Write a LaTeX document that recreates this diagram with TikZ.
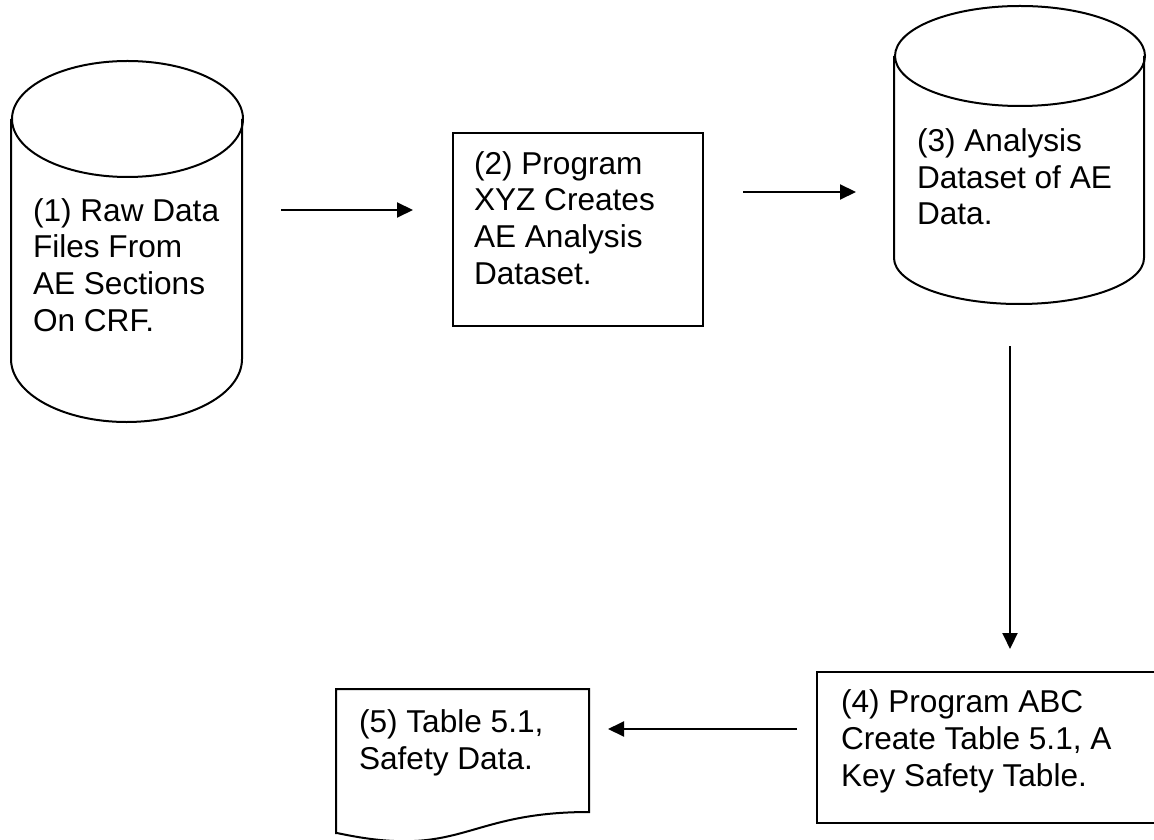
\documentclass[tikz,border=0pt]{standalone}
\usepackage{fontspec}
\setmainfont{Liberation Sans}
\usepackage{tikz}
\usetikzlibrary{arrows.meta}
\usetikzlibrary{positioning}
\usetikzlibrary{calc}
\tikzstyle{dbarea}=[rectangle,draw=none,inner sep=0pt]
\tikzstyle{procbox}=[rectangle,draw,line width=1pt,inner sep=0pt]
% base anchor of a multi-line node sits on its last line
\tikzstyle{txt}=[inner sep=0pt,align=left,anchor=base west,font=\fontsize{15.8}{18.4}\selectfont]
\tikzstyle{flow}=[line width=1pt,-{Triangle[length=8pt,width=7.5pt]}]

\begin{document}
\begin{tikzpicture}[x=0.5pt,y=-0.5pt,line width=1pt]
\useasboundingbox (0,0) rectangle (1154,839);

% shapes
\node [dbarea,minimum width=115.5pt,minimum height=180.5pt] (raw) at (127.5,242.5) {};
\node [procbox,minimum width=125pt,minimum height=96.5pt] (prog) at (578,229.5) {};
\node [dbarea,minimum width=125pt,minimum height=149pt] (ana) at (1020,156) {};
\node [procbox,minimum width=170.5pt,minimum height=75.5pt] (tab) at (987.5,747.5) {};
\node [dbarea,minimum width=125.5pt,minimum height=76.7pt] (out) at (462.5,766.7) {};

% cylinders
\draw (raw.north) ++(0,58) ellipse [x radius=115.5,y radius=58];
\draw (raw.north west) ++(0,58) -- ++(0,240)
  arc [start angle=180,end angle=0,x radius=115.5,y radius=63] -- ++(0,-240);
\draw (ana.north) ++(0,50) ellipse [x radius=125,y radius=50];
\draw (ana.north west) ++(0,50) -- ++(0,202)
  arc [start angle=180,end angle=0,x radius=125,y radius=46] -- ++(0,-202);

% document
\draw (out.south west) ++(0,-10.4) |- (out.north east) -- ++(0,123)
  .. controls ++(-125.5,0) and (462.5,860) .. (337,833);

% texts
\node [txt] (rawtext) at (32,331.5) {(1) Raw Data\\Files From\\AE Sections\\On CRF.};
\node [txt] (progtext) at (473,284.5) {(2) Program\\XYZ Creates\\AE Analysis\\Dataset.};
\node [txt] (anatext) at (916,225) {(3) Analysis\\Dataset of AE\\Data.};
\node [txt] (tabtext) at (840,786.5) {(4) Program ABC\\Create Table 5.1, A\\Key Safety Table.};
\node [txt] (outtext) at (358,769) {(5) Table 5.1,\\Safety Data.};

% arrows
\draw[flow,shorten <=18.5pt,shorten >=19.5pt] (raw.east |- 0,210) -- (prog.west |- 0,210);
\draw[flow,shorten <=19.5pt,shorten >=19pt] (prog.east |- 0,192) -- (ana.west |- 0,192);
\draw[flow,shorten <=20pt,shorten >=11pt] (1010,0 |- ana.south) -- (1010,0 |- tab.north);
\draw[flow,shorten <=9.5pt,shorten >=9.5pt] (tab.west |- 0,729) -- (out.east |- 0,729);
\end{tikzpicture}
\end{document}
